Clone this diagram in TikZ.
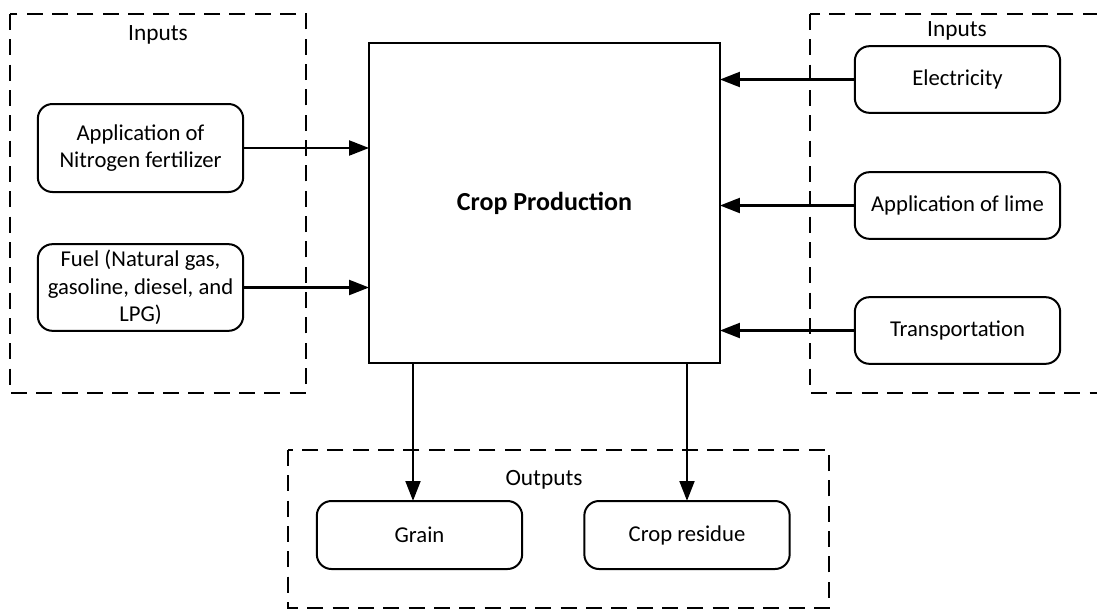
\documentclass[tikz,border=0pt]{standalone}
\usepackage{fontspec}
\setmainfont{Carlito}
\usetikzlibrary{arrows.meta}

\tikzset{
  unitbox/.style={draw, line width=1.5pt, rounded corners=11pt, align=center,
    inner sep=0pt, outer sep=0pt, font=\fontsize{17}{20.5}\selectfont},
  mainbox/.style={draw, line width=1.5pt, inner sep=0pt, outer sep=0pt,
    minimum width=263pt, minimum height=240pt,
    font=\fontsize{19.5}{23}\selectfont\bfseries},
  groupbox/.style={draw, line width=1.5pt, dash pattern=on 12pt off 7pt},
  grouplabel/.style={inner sep=0pt, font=\fontsize{17.5}{21}\selectfont},
  flow/.style={line width=2.2pt, -{Triangle[length=15pt,width=11pt]}}
}

\begin{document}
\begin{tikzpicture}[x=0.75pt, y=-0.75pt]
  \useasboundingbox (0,0) rectangle (1097,611);
  \clip (0,0) rectangle (1097,611);

  % dashed group frames
  \draw[groupbox] (10,14) rectangle (306,393);
  \draw[groupbox] (810,14) rectangle (1120,393);
  \draw[groupbox] (288,450) rectangle (829,608);

  \node[grouplabel] (inL) at (158,35) {Inputs};
  \node[grouplabel] (inR) at (957,31) {Inputs};
  \node[grouplabel] (outB) at (544,480) {Outputs};

  % central process
  \node[mainbox] (cp) at (544.5,203) {Crop Production};

  % left inputs
  \node[unitbox, minimum width=154pt, minimum height=66pt] (nitro) at (140.5,148)
    {Application of\\Nitrogen fertilizer};
  \node[unitbox, minimum width=154pt, minimum height=65pt] (fuel) at (140.5,287.5)
    {Fuel (Natural gas,\\gasoline, diesel, and\\LPG)};

  % right inputs
  \node[unitbox, minimum width=154pt, minimum height=50pt] (elec) at (957.5,79.5) {Electricity};
  \node[unitbox, minimum width=154pt, minimum height=50pt] (lime) at (957.5,205.5) {Application of lime};
  \node[unitbox, minimum width=154pt, minimum height=50pt] (trans) at (957.5,330.5) {Transportation};

  % outputs
  \node[unitbox, minimum width=154pt, minimum height=51pt] (grain) at (419.5,535) {Grain};
  \node[unitbox, minimum width=154pt, minimum height=51pt] (resid) at (687,535) {Crop residue};

  % flows into the process
  \draw[flow] (nitro.east) -- (nitro.east -| cp.west);
  \draw[flow] (fuel.east) -- (fuel.east -| cp.west);
  \draw[flow] (elec.west) -- (elec.west -| cp.east);
  \draw[flow] (lime.west) -- (lime.west -| cp.east);
  \draw[flow] (trans.west) -- (trans.west -| cp.east);

  % flows out of the process
  \coordinate (gx) at (413,0);
  \draw[flow] (cp.south -| gx) -- (grain.north -| gx);
  \draw[flow] (cp.south -| resid.north) -- (resid.north);
\end{tikzpicture}
\end{document}
